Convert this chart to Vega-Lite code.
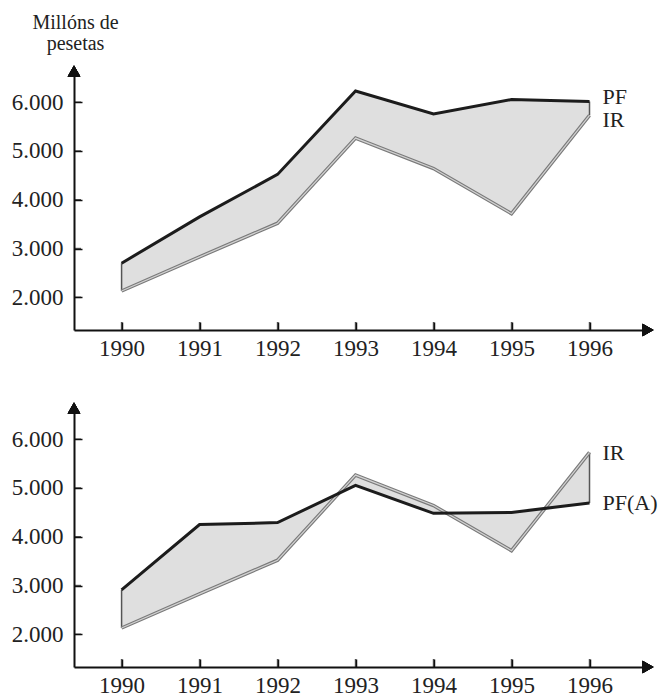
{
  "$schema": "https://vega.github.io/schema/vega-lite/v6.json",
  "background": "white",
  "padding": {"left": 11, "top": 12, "right": 5, "bottom": 5},
  "spacing": 42,
  "config": {
    "view": {"stroke": null},
    "font": "Liberation Serif",
    "axis": {
      "grid": false,
      "domainColor": "#111",
      "domainWidth": 2,
      "tickColor": "#111",
      "tickWidth": 1.5,
      "tickSize": -8,
      "labelFont": "Liberation Serif",
      "labelFontSize": 23,
      "labelColor": "#222",
      "titleFont": "Liberation Serif",
      "titleFontWeight": "normal",
      "titleColor": "#222"
    }
  },
  "datasets": {
    "d": [
      {"year": 1990, "PF": 2700, "IR": 2130, "PFA": 2910},
      {"year": 1991, "PF": 3650, "IR": 2830, "PFA": 4250},
      {"year": 1992, "PF": 4520, "IR": 3520, "PFA": 4290},
      {"year": 1993, "PF": 6230, "IR": 5265, "PFA": 5055},
      {"year": 1994, "PF": 5760, "IR": 4640, "PFA": 4480},
      {"year": 1995, "PF": 6055, "IR": 3715, "PFA": 4500},
      {"year": 1996, "PF": 6015, "IR": 5730, "PFA": 4690}
    ],
    "yt": [{"v": 2000}, {"v": 3000}, {"v": 4000}, {"v": 5000}, {"v": 6000}]
  },
  "vconcat": [
    {
      "width": 574,
      "height": 259,
      "data": {"name": "d"},
      "layer": [
        {
          "mark": {"type": "area", "fill": "#dfdfdf", "stroke": null},
          "encoding": {
            "x": {
              "field": "year",
              "type": "quantitative",
              "scale": {"domain": [1989.39, 1996.75], "nice": false, "zero": false},
              "axis": {"values": [1990, 1991, 1992, 1993, 1994, 1995, 1996], "format": "d", "labelPadding": 15, "title": null}
            },
            "y": {
              "field": "PF",
              "type": "quantitative",
              "scale": {"domain": [1330, 6640], "nice": false, "zero": false},
              "axis": {
                "values": [2000, 3000, 4000, 5000, 6000],
                "labelExpr": "format(datum.value / 1000, 'd') + '.000'",
                "labelPadding": 19,
                "title": ["Millóns de", "pesetas"],
                "titleAngle": 0,
                "titleAlign": "center",
                "titleBaseline": "alphabetic",
                "titleX": 1,
                "titleY": -43,
                "titleFontSize": 20,
                "titleLineHeight": 21
              }
            },
            "y2": {"field": "IR"}
          }
        },
        {
          "transform": [{"filter": "datum.year == 1990 || datum.year == 1996"}],
          "mark": {"type": "rule", "color": "#555", "strokeWidth": 1.5},
          "encoding": {"x": {"field": "year", "type": "quantitative"}, "y": {"field": "PF", "type": "quantitative"}, "y2": {"field": "IR"}}
        },
        {
          "mark": {"type": "line", "color": "#7a7a7a", "strokeWidth": 3.5},
          "encoding": {"x": {"field": "year", "type": "quantitative"}, "y": {"field": "IR", "type": "quantitative"}}
        },
        {
          "mark": {"type": "line", "color": "#d2d2d2", "strokeWidth": 1.2},
          "encoding": {"x": {"field": "year", "type": "quantitative"}, "y": {"field": "IR", "type": "quantitative"}}
        },
        {
          "mark": {"type": "line", "color": "#1c1c1c", "strokeWidth": 3},
          "encoding": {"x": {"field": "year", "type": "quantitative"}, "y": {"field": "PF", "type": "quantitative"}}
        },
        {
          "transform": [{"filter": "datum.year == 1996"}],
          "mark": {"type": "text", "align": "left", "baseline": "middle", "dx": 13, "dy": -4, "fontSize": 22, "color": "#222"},
          "encoding": {"x": {"field": "year", "type": "quantitative"}, "y": {"field": "PF", "type": "quantitative"}, "text": {"value": "PF"}}
        },
        {
          "transform": [{"filter": "datum.year == 1996"}],
          "mark": {"type": "text", "align": "left", "baseline": "middle", "dx": 13, "dy": 5, "fontSize": 22, "color": "#222"},
          "encoding": {"x": {"field": "year", "type": "quantitative"}, "y": {"field": "IR", "type": "quantitative"}, "text": {"value": "IR"}}
        },
        {
          "mark": {"type": "tick", "orient": "vertical", "color": "#111", "thickness": 1.5, "size": 8, "yOffset": -4},
          "encoding": {"x": {"field": "year", "type": "quantitative"}, "y": {"datum": 1330, "type": "quantitative"}}
        },
        {
          "data": {"name": "yt"},
          "mark": {"type": "tick", "orient": "horizontal", "color": "#111", "thickness": 1.5, "size": 7, "xOffset": 3.5},
          "encoding": {"x": {"datum": 1989.39, "type": "quantitative"}, "y": {"field": "v", "type": "quantitative"}}
        },
        {
          "mark": {"type": "point", "shape": "triangle-up", "filled": true, "color": "#111", "size": 160, "opacity": 1},
          "encoding": {"x": {"datum": 1989.39, "type": "quantitative"}, "y": {"datum": 6640, "type": "quantitative"}}
        },
        {
          "mark": {"type": "point", "shape": "triangle-right", "filled": true, "color": "#111", "size": 160, "opacity": 1},
          "encoding": {"x": {"datum": 1996.75, "type": "quantitative"}, "y": {"datum": 1330, "type": "quantitative"}}
        }
      ]
    },
    {
      "width": 574,
      "height": 259,
      "data": {"name": "d"},
      "layer": [
        {
          "mark": {"type": "area", "fill": "#dfdfdf", "stroke": null},
          "encoding": {
            "x": {
              "field": "year",
              "type": "quantitative",
              "scale": {"domain": [1989.39, 1996.75], "nice": false, "zero": false},
              "axis": {"values": [1990, 1991, 1992, 1993, 1994, 1995, 1996], "format": "d", "labelPadding": 15, "title": null}
            },
            "y": {
              "field": "PFA",
              "type": "quantitative",
              "scale": {"domain": [1330, 6640], "nice": false, "zero": false},
              "axis": {
                "values": [2000, 3000, 4000, 5000, 6000],
                "labelExpr": "format(datum.value / 1000, 'd') + '.000'",
                "labelPadding": 19,
                "title": null
              }
            },
            "y2": {"field": "IR"}
          }
        },
        {
          "transform": [{"filter": "datum.year == 1990 || datum.year == 1996"}],
          "mark": {"type": "rule", "color": "#555", "strokeWidth": 1.5},
          "encoding": {"x": {"field": "year", "type": "quantitative"}, "y": {"field": "PFA", "type": "quantitative"}, "y2": {"field": "IR"}}
        },
        {
          "mark": {"type": "line", "color": "#7a7a7a", "strokeWidth": 3.5},
          "encoding": {"x": {"field": "year", "type": "quantitative"}, "y": {"field": "IR", "type": "quantitative"}}
        },
        {
          "mark": {"type": "line", "color": "#d2d2d2", "strokeWidth": 1.2},
          "encoding": {"x": {"field": "year", "type": "quantitative"}, "y": {"field": "IR", "type": "quantitative"}}
        },
        {
          "mark": {"type": "line", "color": "#1c1c1c", "strokeWidth": 3},
          "encoding": {"x": {"field": "year", "type": "quantitative"}, "y": {"field": "PFA", "type": "quantitative"}}
        },
        {
          "transform": [{"filter": "datum.year == 1996"}],
          "mark": {"type": "text", "align": "left", "baseline": "middle", "dx": 13, "dy": 1, "fontSize": 22, "color": "#222"},
          "encoding": {"x": {"field": "year", "type": "quantitative"}, "y": {"field": "IR", "type": "quantitative"}, "text": {"value": "IR"}}
        },
        {
          "transform": [{"filter": "datum.year == 1996"}],
          "mark": {"type": "text", "align": "left", "baseline": "middle", "dx": 13, "dy": 0, "fontSize": 22, "color": "#222"},
          "encoding": {"x": {"field": "year", "type": "quantitative"}, "y": {"field": "PFA", "type": "quantitative"}, "text": {"value": "PF(A)"}}
        },
        {
          "mark": {"type": "tick", "orient": "vertical", "color": "#111", "thickness": 1.5, "size": 8, "yOffset": -4},
          "encoding": {"x": {"field": "year", "type": "quantitative"}, "y": {"datum": 1330, "type": "quantitative"}}
        },
        {
          "data": {"name": "yt"},
          "mark": {"type": "tick", "orient": "horizontal", "color": "#111", "thickness": 1.5, "size": 7, "xOffset": 3.5},
          "encoding": {"x": {"datum": 1989.39, "type": "quantitative"}, "y": {"field": "v", "type": "quantitative"}}
        },
        {
          "mark": {"type": "point", "shape": "triangle-up", "filled": true, "color": "#111", "size": 160, "opacity": 1},
          "encoding": {"x": {"datum": 1989.39, "type": "quantitative"}, "y": {"datum": 6640, "type": "quantitative"}}
        },
        {
          "mark": {"type": "point", "shape": "triangle-right", "filled": true, "color": "#111", "size": 160, "opacity": 1},
          "encoding": {"x": {"datum": 1996.75, "type": "quantitative"}, "y": {"datum": 1330, "type": "quantitative"}}
        }
      ]
    }
  ]
}
